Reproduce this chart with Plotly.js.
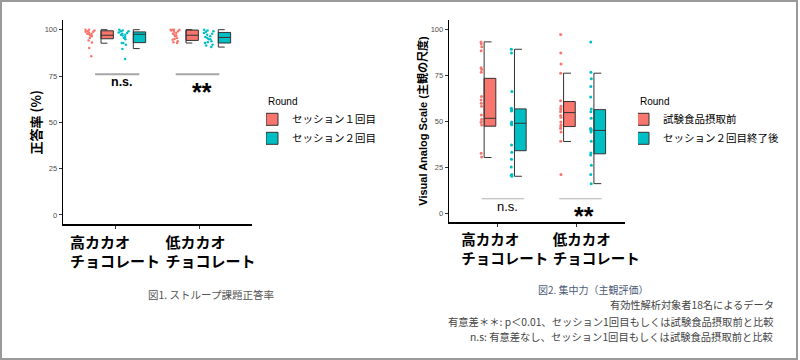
<!DOCTYPE html>
<html>
<head>
<meta charset="utf-8">
<script src="https://cdn.plot.ly/plotly-3.0.1.min.js"></script>
<style>
  html, body { margin: 0; padding: 0; background: #fff; }
  #wrap { position: relative; width: 800px; height: 360px; }
  #chart { width: 800px; height: 360px; }
  #frame { position: absolute; left: 0; top: 0; width: 798px; height: 360px; box-sizing: border-box;
           border: 2px solid #9a9a9a; pointer-events: none; }
</style>
</head>
<body>
<div id="wrap"><div id="chart"></div><div id="frame"></div></div>
<script>
// ---------- data ----------
const categories = ['高カカオ　　<br>チョコレート', '低カカオ　　<br>チョコレート'];
const legendLeft = ['セッション１回目', 'セッション２回目'];
const legendRight = ['試験食品摂取前', 'セッション２回目終了後'];
const yTicks = [0, 25, 50, 75, 100];

// Fig.1 Stroop accuracy (%)
const stroopHighS1 = [100, 100, 99.6, 99.1, 98.9, 98.9, 98.5, 97.8, 97.8, 96.8, 96.8, 96.4, 95.5, 94.2, 93.1, 90.1, 85.6, 97.5];
const stroopHighS2 = [100, 99.6, 99.1, 98.5, 98.2, 97.3, 97.3, 96.8, 96, 94.9, 92.8, 92.8, 91.9, 89.6, 84.2, 99.1, 97.8, 95.5];
const stroopLowS1  = [100, 100, 100, 100, 99.1, 98.2, 97.8, 97.3, 96.4, 95.5, 94.6, 93.7, 93.2, 92.8, 99.6, 98.9, 96.8, 95];
const stroopLowS2  = [99.1, 100, 99.6, 97.8, 97.3, 98.2, 96, 95.5, 94.9, 93.7, 93.2, 92.8, 91.9, 91.4, 94.9, 90.6, 96.4, 98.9];
// box stats [high, low]
const stroopS1Q1 = [95.1, 94.2], stroopS1Med = [97.0, 97.0], stroopS1Q3 = [99.4, 99.8];
const stroopS1Lo = [92.7, 92.8], stroopS1Hi = [100, 100];
const stroopS2Q1 = [93.0, 92.8], stroopS2Med = [97.5, 95.8], stroopS2Q3 = [98.8, 98.5];
const stroopS2Lo = [89.8, 90.6], stroopS2Hi = [100, 100];

// Fig.2 VAS concentration
const vasHighPre  = [93, 92, 90.4, 88.2, 79, 78, 76.5, 63.3, 61.5, 59.7, 58, 53.3, 51, 49.7, 49.2, 47.9, 30.5, 32.5];
const vasHighPost = [89, 87, 66, 57, 56, 55.5, 49.5, 49, 48.5, 48, 37, 33, 29.3, 25, 21, 20, 20.5, 56.5];
const vasLowPre   = [97, 87, 81, 76, 61, 58, 57, 56, 55, 53, 52, 49.5, 48, 47, 46, 44, 39, 21];
const vasLowPost  = [93, 76.5, 73, 68.7, 63, 56.5, 55, 51.5, 46, 45.5, 45, 44, 39, 32.6, 31.6, 26, 21, 16];
const vasPreQ1 = [47.2, 47.0], vasPreMed = [51.5, 54.6], vasPreQ3 = [73.2, 60.6];
const vasPreLo = [30.2, 38.9], vasPreHi = [93, 76];
const vasPostQ1 = [33.9, 32.2], vasPostMed = [48.8, 44.9], vasPostQ3 = [56.6, 56.2];
const vasPostLo = [20.0, 16.0], vasPostHi = [89, 76];

// ---------- styles / positions ----------
const RED = '#F8766D', TEAL = '#00BFC4', EDGE = '#333333';
const CJK = '"Noto Sans CJK JP", sans-serif';
const LAT = '"Liberation Sans", Arial, "Noto Sans CJK JP", sans-serif';
const catPos = [1, 2];
const labelPosLeft = [1, 2.124];
const labelPosRight = [1.094, 2.247];

function pointsTrace(vals, cat, off, w, jit, color, size, xa, ya) {
  return {type: 'box', x: vals.map(() => cat + off), y: vals, boxpoints: 'all', jitter: jit, pointpos: 0,
    width: w, fillcolor: 'rgba(0,0,0,0)', line: {width: 0, color: 'rgba(0,0,0,0)'},
    marker: {color: color, size: size}, hoverinfo: 'skip', showlegend: false, xaxis: xa, yaxis: ya};
}
function boxTrace(name, q1, med, q3, off, w, color, xa, ya, leg) {
  return {type: 'box', name: name, x: catPos.map(c => c + off), q1: q1, median: med, q3: q3,
    width: w, fillcolor: color, line: {color: EDGE, width: 1}, whiskerwidth: 0, boxpoints: false,
    hoverinfo: 'skip', xaxis: xa, yaxis: ya, legend: leg, showlegend: true};
}
function bracketTrace(lo, hi, off, cap, xa, ya) {
  const xs = [], ys = [];
  catPos.forEach((c, i) => {
    const p = c + off;
    xs.push(p + cap, p, p, p + cap, null);
    ys.push(hi[i], hi[i], lo[i], lo[i], null);
  });
  return {type: 'scatter', mode: 'lines', x: xs, y: ys, line: {color: EDGE, width: 1},
    hoverinfo: 'skip', showlegend: false, xaxis: xa, yaxis: ya};
}

const LB = {redBox: -0.092, tealBox: 0.288, w: 0.145, redPts: -0.29, tealPts: 0.105, ptsW: 0.13, jit: 1, cap: 0.075};
const RB = {redBox: -0.092, tealBox: 0.29, w: 0.147, redPts: -0.2, tealPts: 0.18, ptsW: 0.04, jit: 0.3, cap: 0.093};

const data = [
  // left panel
  bracketTrace(stroopS1Lo, stroopS1Hi, LB.redBox - LB.w / 2, LB.cap, 'x', 'y'),
  bracketTrace(stroopS2Lo, stroopS2Hi, LB.tealBox - LB.w / 2, LB.cap, 'x', 'y'),
  pointsTrace(stroopHighS1, 1, LB.redPts, LB.ptsW, LB.jit, RED, 2.5, 'x', 'y'),
  pointsTrace(stroopLowS1, 2, LB.redPts, LB.ptsW, LB.jit, RED, 2.5, 'x', 'y'),
  pointsTrace(stroopHighS2, 1, LB.tealPts, LB.ptsW, LB.jit, TEAL, 2.5, 'x', 'y'),
  pointsTrace(stroopLowS2, 2, LB.tealPts, LB.ptsW, LB.jit, TEAL, 2.5, 'x', 'y'),
  boxTrace(legendLeft[0], stroopS1Q1, stroopS1Med, stroopS1Q3, LB.redBox, LB.w, RED, 'x', 'y', 'legend'),
  boxTrace(legendLeft[1], stroopS2Q1, stroopS2Med, stroopS2Q3, LB.tealBox, LB.w, TEAL, 'x', 'y', 'legend'),
  // right panel
  bracketTrace(vasPreLo, vasPreHi, RB.redBox - RB.w / 2, RB.cap, 'x2', 'y2'),
  bracketTrace(vasPostLo, vasPostHi, RB.tealBox - RB.w / 2, RB.cap, 'x2', 'y2'),
  pointsTrace(vasHighPre, 1, RB.redPts, RB.ptsW, RB.jit, RED, 3, 'x2', 'y2'),
  pointsTrace(vasLowPre, 2, RB.redPts, RB.ptsW, RB.jit, RED, 3, 'x2', 'y2'),
  pointsTrace(vasHighPost, 1, RB.tealPts, RB.ptsW, RB.jit, TEAL, 3, 'x2', 'y2'),
  pointsTrace(vasLowPost, 2, RB.tealPts, RB.ptsW, RB.jit, TEAL, 3, 'x2', 'y2'),
  boxTrace(legendRight[0], vasPreQ1, vasPreMed, vasPreQ3, RB.redBox, RB.w, RED, 'x2', 'y2', 'legend2'),
  boxTrace(legendRight[1], vasPostQ1, vasPostMed, vasPostQ3, RB.tealBox, RB.w, TEAL, 'x2', 'y2', 'legend2')
];

const baseX = {showgrid: false, zeroline: false, showline: true, linecolor: '#000', linewidth: 1.3,
  ticks: '', ticktext: categories, ticklabelstandoff: 4, fixedrange: true,
  minor: {tickvals: catPos, ticks: 'outside', ticklen: 3, tickcolor: '#333', showgrid: false}};
const baseY = {showgrid: false, zeroline: false, showline: true, linecolor: '#000', linewidth: 1.3,
  ticks: 'outside', ticklen: 3, tickcolor: '#333', tickvals: yTicks, range: [-5, 105],
  tickfont: {family: LAT, size: 7.5, color: '#4d4d4d'}, fixedrange: true};

const legendBase = {xanchor: 'left', yanchor: 'top', bgcolor: 'rgba(0,0,0,0)',
  font: {family: CJK, size: 10.5, color: '#000'}};

const layout = {
  width: 800, height: 360, margin: {l: 0, r: 0, t: 0, b: 0},
  paper_bgcolor: '#fff', plot_bgcolor: '#fff', showlegend: true, hovermode: false, boxmode: 'overlay',
  font: {family: LAT, color: '#000'},
  xaxis: Object.assign({}, baseX, {domain: [0.07875, 0.315], range: [0.388, 2.612], anchor: 'y',
    tickvals: labelPosLeft, tickfont: {family: CJK, size: 15, weight: 'bold', color: '#000'}}),
  yaxis: Object.assign({}, baseY, {domain: [0.3771, 0.9433], anchor: 'x',
    title: {text: '正答率 (%)', font: {family: CJK, size: 13, weight: 'bold', color: '#000'}, standoff: 0}}),
  xaxis2: Object.assign({}, baseX, {domain: [0.56125, 0.78125], range: [0.392, 2.608], anchor: 'y2',
    tickvals: labelPosRight, tickfont: {family: CJK, size: 14.5, weight: 'bold', color: '#000'}}),
  yaxis2: Object.assign({}, baseY, {domain: [0.3825, 0.945], anchor: 'x2',
    title: {text: 'Visual Analog Scale (主観の尺度)', font: {family: LAT, size: 11, weight: 'bold', color: '#000'}, standoff: 0}}),
  legend: Object.assign({}, legendBase, {title: {text: 'Round', font: {family: LAT, size: 10, color: '#000'}},
    x: 266 / 800, y: 0.745, indentation: -14}),
  legend2: Object.assign({}, legendBase, {title: {text: 'Round', font: {family: LAT, size: 10, color: '#000'}},
    x: 638 / 800, y: 0.745, indentation: -15}),
  shapes: [
    {type: 'line', xref: 'x', yref: 'y', x0: 0.765, x1: 1.286, y0: 76, y1: 76, line: {color: '#a6a6a6', width: 2}},
    {type: 'line', xref: 'x', yref: 'y', x0: 1.714, x1: 2.227, y0: 76, y1: 76, line: {color: '#a6a6a6', width: 2}},
    {type: 'line', xref: 'x2', yref: 'y2', x0: 0.804, x1: 1.335, y0: 7.8, y1: 7.8, line: {color: '#b0b0b0', width: 1.2}},
    {type: 'line', xref: 'x2', yref: 'y2', x0: 1.78, x1: 2.315, y0: 7.8, y1: 7.8, line: {color: '#b0b0b0', width: 1.2}}
  ],
  annotations: [
    {xref: 'x', yref: 'y', x: 1.079, y: 71.5, text: 'n.s.', showarrow: false, font: {family: LAT, size: 12.5, weight: 'bold', color: '#000'}},
    {xref: 'x', yref: 'y', x: 2.018, y: 66.6, text: '**', showarrow: false, font: {family: LAT, size: 25, weight: 'bold', color: '#000'}},
    {xref: 'x2', yref: 'y2', x: 1.131, y: 3.6, text: 'n.s.', showarrow: false, font: {family: LAT, size: 13, color: '#000'}},
    {xref: 'x2', yref: 'y2', x: 2.092, y: -1.5, text: '**', showarrow: false, font: {family: LAT, size: 25, weight: 'bold', color: '#000'}},
    {xref: 'paper', yref: 'paper', x: 146 / 800, y: 1 - 294 / 360, xanchor: 'left', yanchor: 'middle', showarrow: false,
      text: '図1. ストループ課題正答率', font: {family: CJK, size: 10.5, color: '#555'}},
    {xref: 'paper', yref: 'paper', x: 536 / 800, y: 1 - 289.5 / 360, xanchor: 'left', yanchor: 'middle', showarrow: false,
      text: '図2. 集中力（主観評価）', font: {family: CJK, size: 10, color: '#4a5a78'}},
    {xref: 'paper', yref: 'paper', x: 776 / 800, y: 1 - 304.5 / 360, xanchor: 'right', yanchor: 'middle', showarrow: false,
      text: '有効性解析対象者18名によるデータ', font: {family: CJK, size: 10.2, color: '#444'}},
    {xref: 'paper', yref: 'paper', x: 776 / 800, y: 1 - 321.5 / 360, xanchor: 'right', yanchor: 'middle', showarrow: false,
      text: '有意差＊＊: p＜0.01、セッション1回目もしくは試験食品摂取前と比較', font: {family: CJK, size: 10.3, color: '#444'}},
    {xref: 'paper', yref: 'paper', x: 776 / 800, y: 1 - 336.5 / 360, xanchor: 'right', yanchor: 'middle', showarrow: false,
      text: 'n.s: 有意差なし、セッション1回目もしくは試験食品摂取前と比較', font: {family: CJK, size: 10.3, color: '#444'}}
  ]
};

Plotly.newPlot('chart', data, layout, {staticPlot: true, displayModeBar: false});
</script>
</body>
</html>
